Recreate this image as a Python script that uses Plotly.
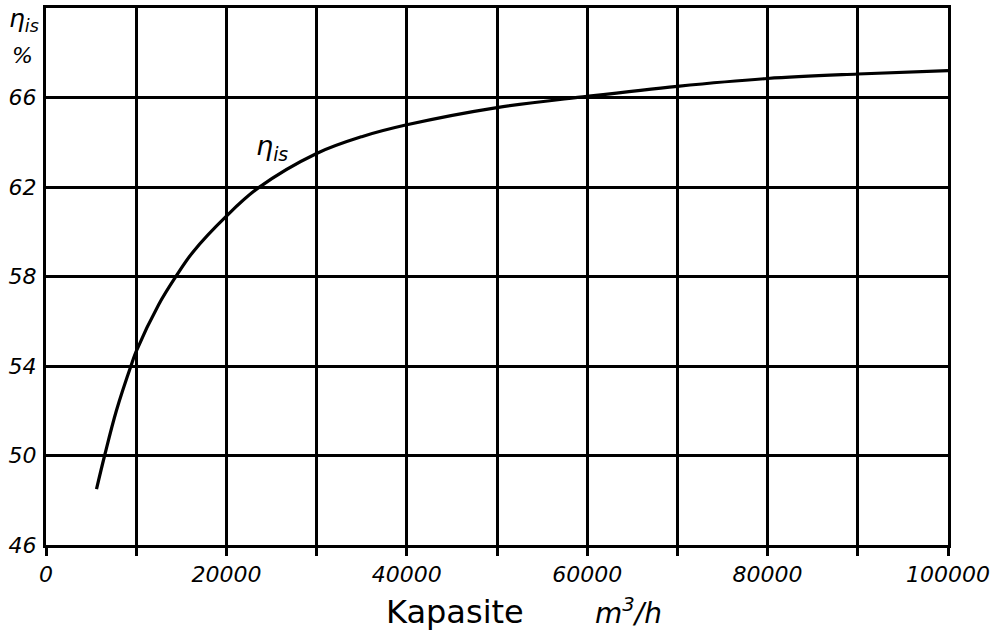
import plotly.graph_objects as go

# Data
capacity = [5600, 6500, 7800, 9500, 10000, 12500, 14400, 16300, 20000, 23500,
            30000, 35000, 40000, 50000, 60000, 70000, 80000, 90000, 100000]
efficiency = [48.5, 50.0, 52.0, 54.1, 54.65, 56.75, 58.0, 59.1, 60.7, 61.95,
              63.5, 64.25, 64.78, 65.55, 66.05, 66.5, 66.85, 67.05, 67.2]

x_tickvals = [0, 10000, 20000, 30000, 40000, 50000, 60000, 70000, 80000, 90000, 100000]
x_ticktext = ["0", "", "20000", "", "40000", "", "60000", "", "80000", "", "100000"]
y_tickvals = [46, 50, 54, 58, 62, 66, 70]
y_ticktext = ["46", "50", "54", "58", "62", "66", ""]

tick_font = dict(family="DejaVu Sans", size=22, color="black", style="italic")

fig = go.Figure()
fig.add_trace(go.Scatter(
    x=capacity, y=efficiency, mode="lines",
    line=dict(color="black", width=3.2, shape="spline", smoothing=1.0),
    hoverinfo="skip", showlegend=False,
))

fig.update_layout(
    width=996, height=634,
    margin=dict(l=46, r=48, t=5, b=89),
    paper_bgcolor="white", plot_bgcolor="white",
    showlegend=False,
    xaxis=dict(
        range=[0, 100000], tickmode="array", tickvals=x_tickvals, ticktext=x_ticktext,
        showgrid=True, gridcolor="black", gridwidth=2.8,
        showline=True, linecolor="black", linewidth=3, mirror=True,
        ticks="outside", ticklen=8, tickwidth=2.8, tickcolor="black",
        tickfont=tick_font, zeroline=False,
    ),
    yaxis=dict(
        range=[46, 70], tickmode="array", tickvals=y_tickvals, ticktext=y_ticktext,
        showgrid=True, gridcolor="black", gridwidth=2.8,
        showline=True, linecolor="black", linewidth=3, mirror=True,
        ticks="", tickfont=tick_font, zeroline=False, ticklabelstandoff=2,
    ),
)

# curve label
fig.add_annotation(x=25000, y=63.75, text="η<sub>is</sub>", showarrow=False,
                   font=dict(family="DejaVu Sans", size=27, color="black", style="italic"))
# y axis title
fig.add_annotation(xref="paper", yref="paper", x=-0.006, y=1.012, xanchor="right", yanchor="top",
                   text="η<sub>is</sub>", showarrow=False,
                   font=dict(family="DejaVu Sans", size=25, color="black", style="italic"))
fig.add_annotation(xref="paper", yref="paper", x=-0.012, y=0.912, xanchor="right", yanchor="middle",
                   text="%", showarrow=False,
                   font=dict(family="DejaVu Sans", size=22, color="black", style="italic"))
# x axis title
fig.add_annotation(xref="paper", yref="paper", x=0.453, y=-0.124, xanchor="center", yanchor="middle",
                   text="Kapasite", showarrow=False,
                   font=dict(family="DejaVu Sans", size=32, color="black"))
fig.add_annotation(xref="paper", yref="paper", x=0.646, y=-0.124, xanchor="center", yanchor="middle",
                   text="m<sup>3</sup>/h", showarrow=False,
                   font=dict(family="DejaVu Sans", size=28, color="black", style="italic"))

fig.write_html("out.html")
